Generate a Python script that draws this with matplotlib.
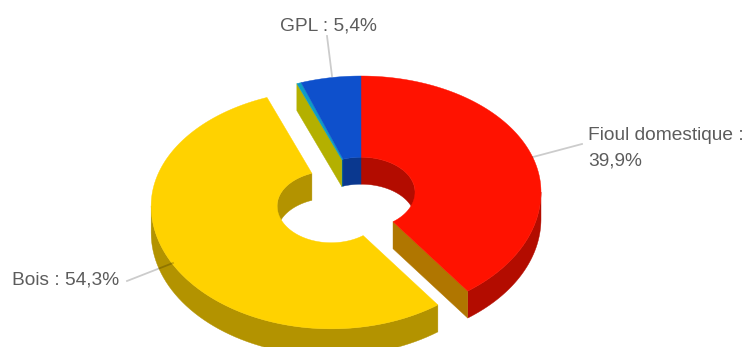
import numpy as np
import matplotlib
matplotlib.use('Agg')
import matplotlib.pyplot as plt
from matplotlib.patches import Polygon

# Data, clockwise from the top
names = ['Fioul domestique', 'Bois', 'Autre', 'GPL']
values = [39.9, 54.3, 0.4, 5.4]
top_colors = ['#ff1200', '#ffd200', '#0e9cc4', '#0e50cc']
side_colors = ['#b30c00', '#b39300', '#0a6d89', '#0a388f']
cut_colors = ['#b07600', None, '#b4b000', None]
explode = [0, 34, 0, 0]

# Layout in pixels
cx, cy = 361, 192
rx, ry_up, ry_low = 180, 116, 123
hole = 0.3
depth = 27


def proj(ox, oy, theta, frac, z=0):
    # theta in degrees clockwise from the top; lower half of the disc is a bit deeper
    t = np.radians(theta)
    c = np.cos(t)
    ry = np.where(c > 0, ry_up, ry_low)
    return np.column_stack([ox + rx * frac * np.sin(t), oy - ry * frac * c + z])


def wall(ox, oy, a, b, frac, color):
    if b <= a:
        return
    th = np.linspace(a, b, 60)
    pts = proj(ox, oy, th, frac)
    low = proj(ox, oy, th[::-1], frac, depth)
    ax.add_patch(Polygon(np.vstack([pts, low]), fc=color, ec=color, lw=0.3))


fig = plt.figure(figsize=(7.44, 3.47), dpi=100)
ax = fig.add_axes([0, 0, 1, 1])
ax.set_xlim(0, 744)
ax.set_ylim(347, 0)
ax.axis('off')

ends = np.cumsum(values) / np.sum(values) * 360
starts = np.concatenate([[0], ends[:-1]])
centers = []
for a, b, e in zip(starts, ends, explode):
    mid = np.radians((a + b) / 2)
    centers.append((cx + e * np.sin(mid), cy - e * 0.85 * np.cos(mid)))

# outer sides (front half) and hole walls (back half)
for i in range(len(values)):
    a, b = starts[i], ends[i]
    ox, oy = centers[i]
    wall(ox, oy, max(a, 90), min(b, 270), 1, side_colors[i])
    wall(ox, oy, a, min(b, 90), hole, side_colors[i])
    wall(ox, oy, max(a, 270), b, hole, side_colors[i])

# cut faces of the slices
for i in range(len(values)):
    if cut_colors[i] is None:
        continue
    ox, oy = centers[i]
    theta = ends[i] if ends[i] < 180 else starts[i]
    p = proj(ox, oy, np.array([theta, theta]), np.array([hole, 1]))
    q = proj(ox, oy, np.array([theta, theta]), np.array([1, hole]), depth)
    ax.add_patch(Polygon(np.vstack([p, q]), fc=cut_colors[i], ec=cut_colors[i], lw=0.3))

# top faces
for i in range(len(values)):
    ox, oy = centers[i]
    th = np.linspace(starts[i], ends[i], 150)
    pts = np.vstack([proj(ox, oy, th, 1), proj(ox, oy, th[::-1], hole)])
    ax.add_patch(Polygon(pts, fc=top_colors[i], ec=top_colors[i], lw=0.3))

# leader lines
for xs, ys in [([327, 332], [36, 76]), ([533, 582], [157, 144]), ([127, 173], [281, 263])]:
    ax.plot(xs, ys, color='black', alpha=0.2, lw=1.3)

# labels
label_style = dict(color='#5c5c5c', fontsize=13.8, family='Liberation Sans', va='center')
ax.text(280, 26, f'{names[3]} : 5,4%', **label_style)
ax.text(588, 135, f'{names[0]} :', **label_style)
ax.text(588, 161, '39,9%', **label_style)
ax.text(12, 280, f'{names[1]} : 54,3%', **label_style)

fig.savefig('out.png', dpi=100)
